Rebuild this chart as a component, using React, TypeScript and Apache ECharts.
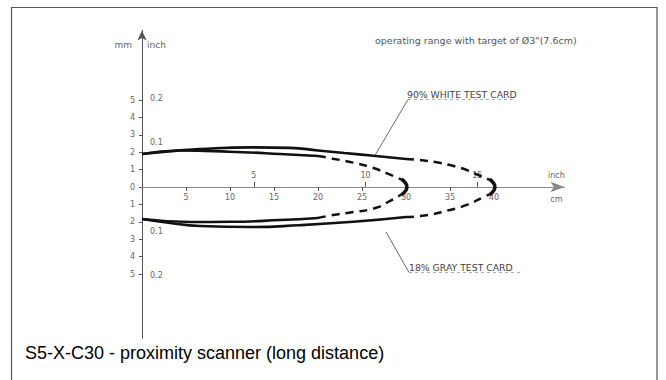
import React, { useEffect, useRef } from "react";
import * as echarts from "echarts";

// axis tick values
const CM_TICKS = [5, 10, 15, 20, 25, 30, 35, 40];
const INCH_TICKS_X = [5, 10, 15]; // inches along the beam
const MM_TICKS = [-5, -4, -3, -2, -1, 0, 1, 2, 3, 4, 5];
const INCH_TICKS_Y = [-0.2, -0.1, 0.1, 0.2];

// 90% white test card envelope (x: cm, y: mm)
const whiteUpperSolid = [[0, 1.9], [3, 2.05], [6.6, 2.18], [12.3, 2.28], [16.8, 2.25], [20, 2.1], [23, 1.95], [26.3, 1.8], [30, 1.61]];
const whiteUpperDash = [[30, 1.61], [31.6, 1.55], [33.5, 1.42], [35, 1.26], [36.9, 0.98], [38.5, 0.62], [39.5, 0.42]];
const whiteLowerSolid = [[0, -1.84], [3, -2.05], [6.6, -2.24], [12.3, -2.3], [17.8, -2.2], [24, -2.0], [30, -1.72]];
const whiteLowerDash = [[30, -1.72], [31.6, -1.67], [35, -1.32], [36.9, -1.03], [38.6, -0.63], [39.5, -0.42]];
const bracket40 = [[39.5, 0.45], [39.95, 0.22], [40.1, 0], [39.95, -0.22], [39.5, -0.45]];

// 18% gray test card envelope
const grayUpperSolid = [[0, 1.9], [4.3, 2.1], [9.9, 2.03], [15.7, 1.9], [20, 1.78]];
const grayUpperDash = [[20, 1.78], [21.7, 1.63], [24, 1.4], [26.3, 1.09], [28, 0.75], [29.5, 0.42]];
const grayLowerSolid = [[0, -1.84], [5.5, -2.01], [10, -2.0], [15.7, -1.9], [20, -1.78]];
const grayLowerDash = [[20, -1.78], [21.7, -1.61], [24, -1.44], [26.5, -1.21], [28.2, -0.8], [29.5, -0.42]];
const bracket30 = [[29.5, 0.45], [29.95, 0.22], [30.1, 0], [29.95, -0.22], [29.5, -0.45]];

const TITLE = "S5-X-C30 - proximity scanner (long distance)";
const NOTE = 'operating range with target of Ø3"(7.6cm)';
const WHITE_LABEL = "90% WHITE TEST CARD";
const GRAY_LABEL = "18% GRAY TEST CARD";

const CM_PER_INCH = 2.54;
const MM_PER_INCH = 25.4;

const Y_MIN = -8.7;
const Y_MAX = 9;
const GRID_TOP = 30.4;
const GRID_H = 308;
// distance from the grid bottom up to y = 0
const ZERO_OFFSET = (GRID_H * (0 - Y_MIN)) / (Y_MAX - Y_MIN);

const AX = "#555";
const LBL = { color: "#666", fontSize: 8, fontFamily: "DejaVu Sans" };

export default function App() {
  const ref = useRef<HTMLDivElement>(null);
  useEffect(() => {
    if (!ref.current) return;
    const chart = echarts.init(ref.current, undefined, { renderer: "svg" });
    const solid = (name: string, data: number[][]) => ({
      name, type: "line", data, symbol: "none", smooth: 0.5, silent: true,
      lineStyle: { color: "#111", width: 2.6 },
    });
    const dashed = (name: string, data: number[][]) => ({
      name, type: "line", data, symbol: "none", smooth: 0.5, silent: true,
      lineStyle: { color: "#111", width: 2.5, type: [8, 6] },
    });
    const bracket = (name: string, data: number[][]) => ({
      name, type: "line", data, symbol: "none", smooth: 0.6, silent: true,
      lineStyle: { color: "#111", width: 3.5 },
    });
    chart.setOption({
      animation: false,
      backgroundColor: "#fff",
      grid: { left: 142, top: GRID_TOP, width: 422.4, height: GRID_H, containLabel: false, outerBoundsMode: "none" },
      xAxis: [
        {
          type: "value", min: 0, max: 48, position: "bottom", offset: -ZERO_OFFSET,
          name: "cm", nameLocation: "end", nameGap: -8,
          nameTextStyle: { ...LBL, align: "center", verticalAlign: "top", padding: [8, 0, 0, 0] },
          axisLine: { onZero: false, symbol: ["none", "arrow"], symbolSize: [8, 14], lineStyle: { color: "#888", width: 1 } },
          axisTick: { customValues: CM_TICKS, length: 4, lineStyle: { color: AX } },
          axisLabel: { customValues: CM_TICKS, margin: 6, ...LBL },
          splitLine: { show: false },
        },
        {
          type: "value", min: 0, max: 48, position: "bottom", offset: -ZERO_OFFSET,
          name: "inch", nameLocation: "end", nameGap: -8,
          nameTextStyle: { ...LBL, align: "center", verticalAlign: "bottom", padding: [0, 0, 8, 0] },
          axisLine: { show: false, onZero: false },
          axisTick: { inside: true, customValues: INCH_TICKS_X.map((v) => v * CM_PER_INCH), length: 5, lineStyle: { color: AX } },
          axisLabel: {
            inside: true, margin: 8, ...LBL,
            customValues: INCH_TICKS_X.map((v) => v * CM_PER_INCH),
            formatter: (v: number) => String(Math.round(v / CM_PER_INCH)),
          },
          splitLine: { show: false },
        },
      ],
      yAxis: [
        {
          type: "value", min: Y_MIN, max: Y_MAX,
          name: "mm", nameLocation: "end", nameGap: -15,
          nameTextStyle: { ...LBL, fontSize: 9, align: "right", verticalAlign: "middle", padding: [0, 10, 0, 0] },
          axisLine: { onZero: false, symbol: ["none", "arrow"], symbolSize: [7, 10], lineStyle: { color: AX, width: 1 } },
          axisTick: { customValues: MM_TICKS, length: 3, lineStyle: { color: AX } },
          axisLabel: { customValues: MM_TICKS, margin: 7, ...LBL, formatter: (v: number) => String(Math.abs(v)) },
          splitLine: { show: false },
        },
        {
          type: "value", min: Y_MIN, max: Y_MAX, position: "left",
          name: "inch", nameLocation: "end", nameGap: -15,
          nameTextStyle: { ...LBL, fontSize: 9, align: "left", verticalAlign: "middle", padding: [0, 0, 0, 5] },
          axisLine: { show: false, onZero: false },
          axisTick: { show: false },
          axisLabel: {
            inside: true, margin: 8, ...LBL,
            customValues: INCH_TICKS_Y.map((v) => v * MM_PER_INCH),
            formatter: (v: number) => (Math.abs(v) / MM_PER_INCH).toFixed(1),
          },
          splitLine: { show: false },
        },
      ],
      series: [
        solid("white-upper", whiteUpperSolid),
        dashed("white-upper-range", whiteUpperDash),
        solid("white-lower", whiteLowerSolid),
        dashed("white-lower-range", whiteLowerDash),
        bracket("white-limit", bracket40),
        solid("gray-upper", grayUpperSolid),
        dashed("gray-upper-range", grayUpperDash),
        solid("gray-lower", grayLowerSolid),
        dashed("gray-lower-range", grayLowerDash),
        bracket("gray-limit", bracket30),
      ],
      graphic: [
        { type: "rect", silent: true, shape: { x: 11.5, y: 7.5, width: 645.5, height: 400 }, style: { fill: "none", stroke: "#555", lineWidth: 1.2 } },
        { type: "text", x: 375, y: 40, style: { text: NOTE, fill: "#555", fontSize: 9.5, fontFamily: "DejaVu Sans", verticalAlign: "middle" } },
        { type: "text", x: 407, y: 94, style: { text: WHITE_LABEL, fill: "#444", fontSize: 9.3, fontFamily: "DejaVu Sans", verticalAlign: "middle" } },
        { type: "line", shape: { x1: 408, y1: 99.5, x2: 516, y2: 99.5 }, style: { stroke: "#999", lineWidth: 0.8, lineDash: [3, 3] } },
        { type: "line", shape: { x1: 408, y1: 99.5, x2: 374, y2: 157 }, style: { stroke: "#444", lineWidth: 0.8 } },
        { type: "text", x: 409, y: 267, style: { text: GRAY_LABEL, fill: "#444", fontSize: 9.3, fontFamily: "DejaVu Sans", verticalAlign: "middle" } },
        { type: "line", shape: { x1: 409, y1: 272.5, x2: 521, y2: 272.5 }, style: { stroke: "#999", lineWidth: 0.8, lineDash: [3, 3] } },
        { type: "line", shape: { x1: 409, y1: 272.5, x2: 386, y2: 232 }, style: { stroke: "#444", lineWidth: 0.8 } },
        { type: "text", x: 25, y: 353, style: { text: TITLE, fill: "#000", fontSize: 18, fontFamily: "Liberation Sans", verticalAlign: "middle" } },
      ],
    });
    return () => chart.dispose();
  }, []);
  return <div ref={ref} style={{ position: "absolute", left: 0, top: 0, width: 666, height: 380 }} />;
}
